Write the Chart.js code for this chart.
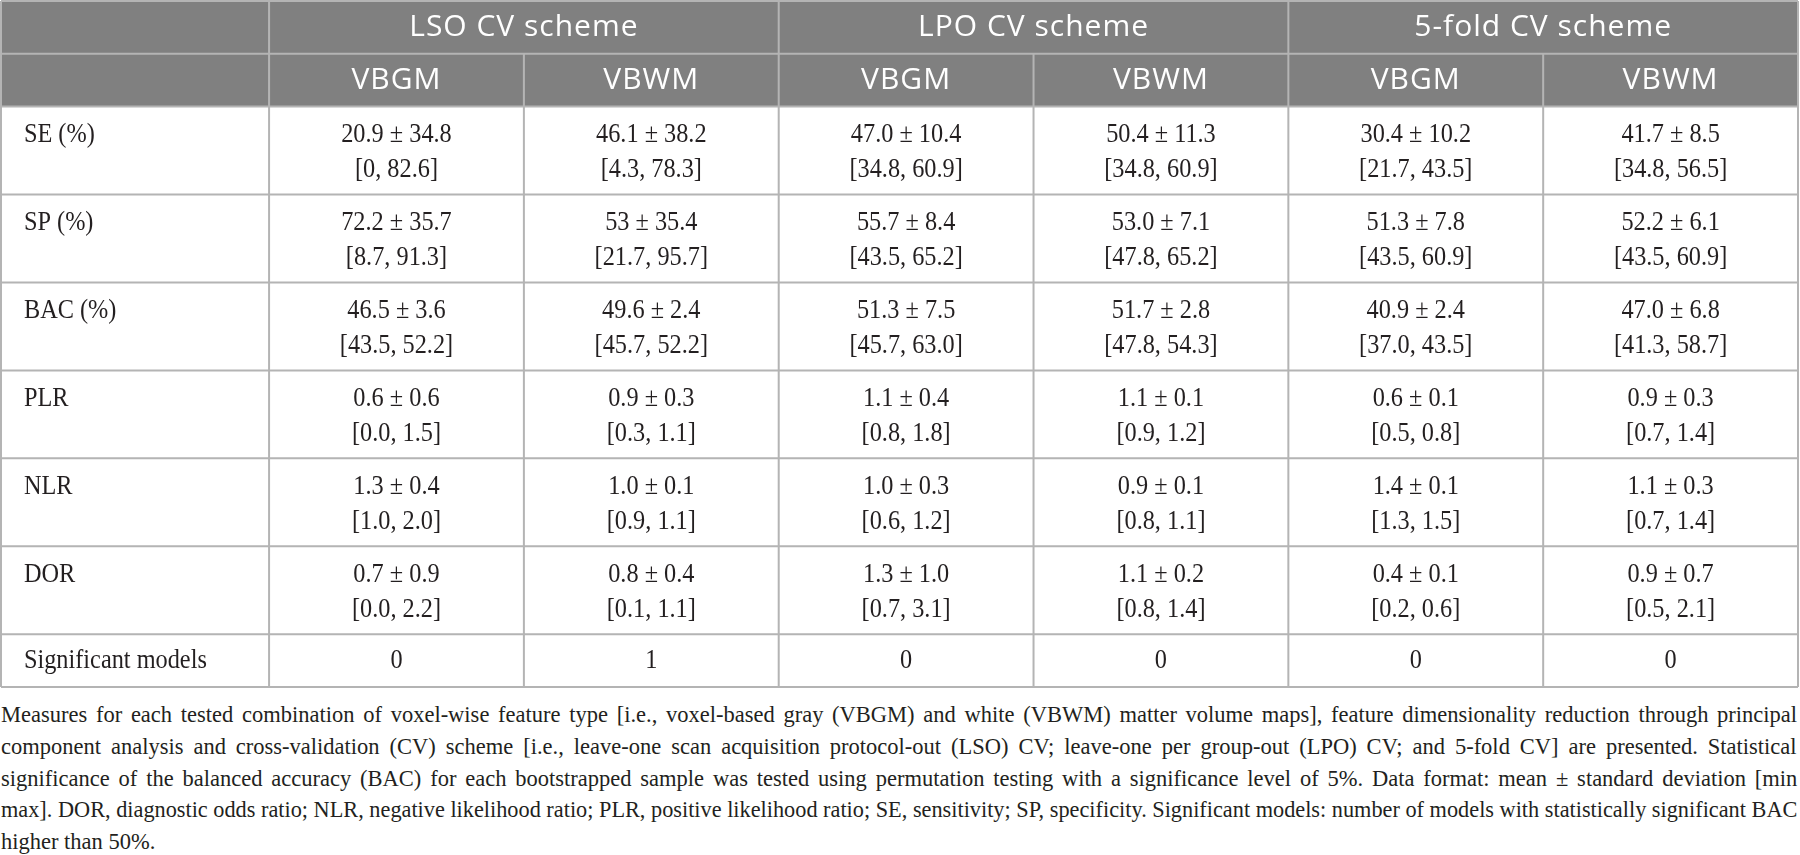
<!DOCTYPE html>
<html>
<head>
<meta charset="utf-8">
<script src="https://cdn.jsdelivr.net/npm/chart.js@4.4.1/dist/chart.umd.min.js"></script>
<style>
  html, body { margin: 0; padding: 0; background: #fff; }
  body { width: 1800px; height: 855px; position: relative; overflow: hidden; }
  #tabela { position: absolute; left: 0; top: 0; }
  #legenda { position: absolute; left: 1px; top: 699px; width: 1796px; font-family: "Liberation Serif", serif; font-size: 22.5px; line-height: 31.75px; color: #231f20; }
  .linha { white-space: nowrap; }
  .linha span { display: inline-block; transform-origin: left center; }
</style>
</head>
<body>
<canvas id="tabela" width="1800" height="690"></canvas>
<div id="legenda"></div>
<script>
const schemes = ['LSO CV scheme', 'LPO CV scheme', '5-fold CV scheme'];
const features = ['VBGM', 'VBWM'];
const measures = ['SE (%)', 'SP (%)', 'BAC (%)', 'PLR', 'NLR', 'DOR'];
const sigLabel = 'Significant models';

// linhas = medidas, colunas = LSO VBGM, LSO VBWM, LPO VBGM, LPO VBWM, 5-fold VBGM, 5-fold VBWM
const means = [
    ['20.9', '46.1', '47.0', '50.4', '30.4', '41.7'],
    ['72.2', '53', '55.7', '53.0', '51.3', '52.2'],
    ['46.5', '49.6', '51.3', '51.7', '40.9', '47.0'],
    ['0.6', '0.9', '1.1', '1.1', '0.6', '0.9'],
    ['1.3', '1.0', '1.0', '0.9', '1.4', '1.1'],
    ['0.7', '0.8', '1.3', '1.1', '0.4', '0.9']
];
const sds = [
    ['34.8', '38.2', '10.4', '11.3', '10.2', '8.5'],
    ['35.7', '35.4', '8.4', '7.1', '7.8', '6.1'],
    ['3.6', '2.4', '7.5', '2.8', '2.4', '6.8'],
    ['0.6', '0.3', '0.4', '0.1', '0.1', '0.3'],
    ['0.4', '0.1', '0.3', '0.1', '0.1', '0.3'],
    ['0.9', '0.4', '1.0', '0.2', '0.1', '0.7']
];
const mins = [
    ['0', '4.3', '34.8', '34.8', '21.7', '34.8'],
    ['8.7', '21.7', '43.5', '47.8', '43.5', '43.5'],
    ['43.5', '45.7', '45.7', '47.8', '37.0', '41.3'],
    ['0.0', '0.3', '0.8', '0.9', '0.5', '0.7'],
    ['1.0', '0.9', '0.6', '0.8', '1.3', '0.7'],
    ['0.0', '0.1', '0.7', '0.8', '0.2', '0.5']
];
const maxs = [
    ['82.6', '78.3', '60.9', '60.9', '43.5', '56.5'],
    ['91.3', '95.7', '65.2', '65.2', '60.9', '60.9'],
    ['52.2', '52.2', '63.0', '54.3', '43.5', '58.7'],
    ['1.5', '1.1', '1.8', '1.2', '0.8', '1.4'],
    ['2.0', '1.1', '1.2', '1.1', '1.5', '1.4'],
    ['2.2', '1.1', '3.1', '1.4', '0.6', '2.1']
];
const significant = [0, 1, 0, 0, 0, 0];

const captionLines = [
    'Measures for each tested combination of voxel-wise feature type [i.e., voxel-based gray (VBGM) and white (VBWM) matter volume maps], feature dimensionality reduction through principal',
    'component analysis and cross-validation (CV) scheme [i.e., leave-one scan acquisition protocol-out (LSO) CV; leave-one per group-out (LPO) CV; and 5-fold CV] are presented. Statistical',
    'significance of the balanced accuracy (BAC) for each bootstrapped sample was tested using permutation testing with a significance level of 5%. Data format: mean \u00b1 standard deviation [min',
    'max]. DOR, diagnostic odds ratio; NLR, negative likelihood ratio; PLR, positive likelihood ratio; SE, sensitivity; SP, specificity. Significant models: number of models with statistically significant BAC',
    'higher than 50%.'
];

// grade da tabela em "unidades de coluna" e "unidades de linha"
const larguraRotulo = 1.052; // coluna dos rótulos é um pouco mais larga
const alturas = [0.6, 0.6, 1, 1, 1, 1, 1, 1, 0.6];
const bordasX = [0, larguraRotulo];
for (let i = 1; i <= 6; i++) bordasX.push(larguraRotulo + i);
const bordasY = [0];
alturas.forEach(h => bordasY.push(bordasY[bordasY.length - 1] + h));

const meioX = c => (bordasX[c] + bordasX[c + 1]) / 2; // c = índice da coluna (0 = rótulos)
const meioY = r => (bordasY[r] + bordasY[r + 1]) / 2; // r = índice da linha (0, 1 = cabeçalho)

const celulasCabecalho = [];
schemes.forEach((s, i) => celulasCabecalho.push({ x: (bordasX[1 + 2 * i] + bordasX[3 + 2 * i]) / 2, y: meioY(0), texto: s }));
schemes.forEach((s, i) => features.forEach((f, j) => celulasCabecalho.push({ x: meioX(1 + 2 * i + j), y: meioY(1), texto: f })));

const celulasRotulo = measures.map((m, r) => ({ x: 0.09, y: meioY(r + 2) - 0.18, texto: m }));
celulasRotulo.push({ x: 0.09, y: meioY(8), texto: sigLabel });

const celulasMedia = [];
const celulasIntervalo = [];
measures.forEach((m, r) => {
    means[r].forEach((v, c) => {
        celulasMedia.push({ x: meioX(c + 1), y: meioY(r + 2) - 0.18, texto: v + ' \u00b1 ' + sds[r][c] });
        celulasIntervalo.push({ x: meioX(c + 1), y: meioY(r + 2) + 0.22, texto: '[' + mins[r][c] + ', ' + maxs[r][c] + ']' });
    });
});
const celulasSig = significant.map((v, c) => ({ x: meioX(c + 1), y: meioY(8), texto: String(v) }));

const fonteCorpo = '27px "Liberation Serif"';
const escalaCorpo = 0.9; // fonte do original é mais estreita

const desenhaTabela = {
    id: 'desenhaTabela',
    beforeDatasetsDraw(chart) {
        const { ctx, scales: { x, y } } = chart;
        const px = v => x.getPixelForValue(v);
        const py = v => y.getPixelForValue(v);
        const esq = px(bordasX[0]), dir = px(bordasX[bordasX.length - 1]);
        const topo = py(bordasY[0]), fundo = py(bordasY[bordasY.length - 1]);

        ctx.save();
        // fundo cinza do cabeçalho
        ctx.fillStyle = '#808080';
        ctx.fillRect(esq, topo, dir - esq, py(bordasY[2]) - topo);

        ctx.strokeStyle = '#b4b4b4';
        ctx.lineWidth = 2;
        ctx.beginPath();
        bordasY.forEach(b => { ctx.moveTo(esq, py(b)); ctx.lineTo(dir, py(b)); });
        // linhas verticais: esquemas cortam toda a altura, modelos começam no 2º cabeçalho
        [0, 1, 3, 5, 7].forEach(i => { ctx.moveTo(px(bordasX[i]), topo); ctx.lineTo(px(bordasX[i]), fundo); });
        [2, 4, 6].forEach(i => { ctx.moveTo(px(bordasX[i]), py(bordasY[1])); ctx.lineTo(px(bordasX[i]), fundo); });
        ctx.stroke();
        ctx.restore();
    },
    afterDatasetsDraw(chart) {
        const { ctx } = chart;
        chart.data.datasets.forEach((ds, i) => {
            const meta = chart.getDatasetMeta(i);
            ctx.save();
            ctx.font = ds.fonte;
            ctx.fillStyle = ds.cor;
            ctx.textAlign = ds.alinhamento;
            ctx.textBaseline = 'middle';
            ctx.letterSpacing = ds.espacamento || '0px';
            meta.data.forEach((pt, j) => {
                ctx.save();
                ctx.translate(pt.x, pt.y);
                ctx.scale(ds.escala || 1, 1);
                ctx.fillText(ds.data[j].texto, 0, 0);
                ctx.restore();
            });
            ctx.restore();
        });
    }
};

const tabela = new Chart(document.getElementById('tabela'), {
    type: 'scatter',
    data: {
        datasets: [
            { label: 'cabecalho', data: celulasCabecalho, fonte: '30px "Open Sans"', cor: '#ffffff', alinhamento: 'center', espacamento: '1px' },
            { label: 'rotulos', data: celulasRotulo, fonte: fonteCorpo, escala: escalaCorpo, cor: '#231f20', alinhamento: 'left' },
            { label: 'media', data: celulasMedia, fonte: fonteCorpo, escala: escalaCorpo, cor: '#231f20', alinhamento: 'center' },
            { label: 'intervalo', data: celulasIntervalo, fonte: fonteCorpo, escala: escalaCorpo, cor: '#231f20', alinhamento: 'center' },
            { label: 'significativos', data: celulasSig, fonte: fonteCorpo, escala: escalaCorpo, cor: '#231f20', alinhamento: 'center' }
        ]
    },
    options: {
        responsive: false,
        animation: false,
        elements: { point: { radius: 0, hoverRadius: 0 } },
        layout: { padding: { left: 1, right: 2, top: 1, bottom: 3 } },
        scales: {
            x: { type: 'linear', min: 0, max: bordasX[bordasX.length - 1], display: false },
            y: { type: 'linear', min: 0, max: bordasY[bordasY.length - 1], reverse: true, display: false }
        },
        plugins: {
            legend: { display: false },
            tooltip: { enabled: false }
        }
    },
    plugins: [desenhaTabela]
});

// legenda abaixo da tabela, justificada linha a linha
const legenda = document.getElementById('legenda');
const largura = 1796;
captionLines.forEach((texto, i) => {
    const linha = document.createElement('div');
    linha.className = 'linha';
    const span = document.createElement('span');
    span.textContent = texto;
    linha.appendChild(span);
    legenda.appendChild(linha);
    const w = span.offsetWidth;
    if (w > largura) {
        span.style.transform = 'scaleX(' + (largura / w) + ')';
    } else if (i < captionLines.length - 1) {
        const espacos = texto.split(' ').length - 1;
        span.style.wordSpacing = ((largura - w) / espacos) + 'px';
    }
});
</script>
</body>
</html>
